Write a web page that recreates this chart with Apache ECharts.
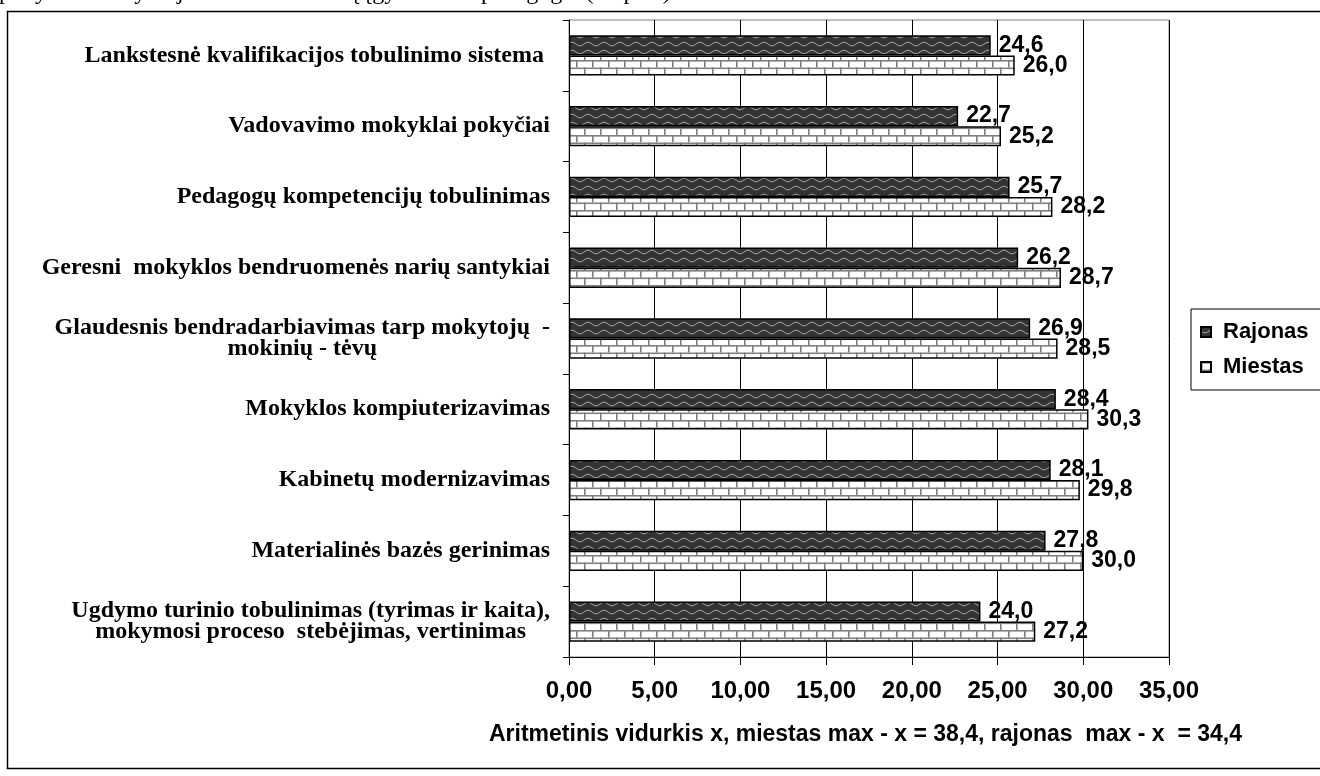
<!DOCTYPE html>
<html><head><meta charset="utf-8">
<script src="https://cdn.jsdelivr.net/npm/echarts@6/dist/echarts.min.js"></script>
<style>html,body{margin:0;padding:0;background:#fff}#c{width:1320px;height:776px}</style>
</head><body><div id="c"></div>
<script>
const categories = [
  'Lankstesnė kvalifikacijos tobulinimo sistema ',
  'Vadovavimo mokyklai pokyčiai',
  'Pedagogų kompetencijų tobulinimas',
  'Geresni  mokyklos bendruomenės narių santykiai',
  'Glaudesnis bendradarbiavimas tarp mokytojų  -\nmokinių - tėvų',
  'Mokyklos kompiuterizavimas',
  'Kabinetų modernizavimas',
  'Materialinės bazės gerinimas',
  'Ugdymo turinio tobulinimas (tyrimas ir kaita),\nmokymosi proceso  stebėjimas, vertinimas'
];
const rajonas = [24.6, 22.7, 25.7, 26.2, 26.9, 28.4, 28.1, 27.8, 24.0];
const miestas = [26.0, 25.2, 28.2, 28.7, 28.5, 30.3, 29.8, 30.0, 27.2];
const seriesNames = ['Rajonas', 'Miestas'];
const xMin = 0, xMax = 35, xInterval = 5;
const axisTitle = 'Aritmetinis vidurkis x, miestas max - x = 38,4, rajonas  max - x  = 34,4';
const topText = 'pokyčius mokykloje labiausiai norėtų įgyvendinti pedagogai (10 pav.)';

function wavePattern() {
  const c = document.createElement('canvas'); c.width = 16; c.height = 8;
  const g = c.getContext('2d');
  g.fillStyle = '#333333'; g.fillRect(0, 0, 16, 8);
  g.strokeStyle = '#8e8e8e'; g.lineWidth = 1.2; g.beginPath();
  for (let x = 0; x <= 16; x += 0.5) {
    const y = 4 + 1.7 * Math.sin(x / 16 * 2 * Math.PI);
    if (x === 0) g.moveTo(x, y); else g.lineTo(x, y);
  }
  g.stroke();
  return c;
}
function brickPattern() {
  const c = document.createElement('canvas'); c.width = 16; c.height = 15;
  const g = c.getContext('2d');
  g.fillStyle = '#ffffff'; g.fillRect(0, 0, 16, 15);
  g.fillStyle = '#808080';
  g.fillRect(0, 0, 16, 1.6); g.fillRect(0, 7.5, 16, 1.6);
  g.fillRect(0, 0, 1.6, 7.5); g.fillRect(8, 7.5, 1.6, 7.5);
  return c;
}
const fmt1 = v => v.toFixed(1).replace('.', ',');
const fmt2 = v => v.toFixed(2).replace('.', ',');

const chart = echarts.init(document.getElementById('c'), null, {renderer: 'canvas'});
const labelStyle = {
  show: true, position: 'right', distance: 8,
  fontFamily: 'Liberation Sans, Arial', fontWeight: 'bold', fontSize: 23, color: '#000',
  formatter: p => fmt1(p.value)
};
chart.setOption({
  backgroundColor: '#fff',
  animation: false,
  grid: {left: 569, top: 20, width: 600, height: 637, show: true, borderColor: '#808080', borderWidth: 1, containLabel: false},
  legend: {
    orient: 'vertical', left: 1191, top: 309,
    padding: [11, 200, 11, 9],
    borderColor: '#000', borderWidth: 1,
    itemWidth: 10, itemHeight: 10, itemGap: 11,
    selectedMode: false,
    textStyle: {fontFamily: 'Liberation Sans, Arial', fontWeight: 'bold', fontSize: 22, color: '#000', padding: [0, 0, 0, 7], lineHeight: 24},
    data: seriesNames.map(n => ({name: n, icon: 'rect'}))
  },
  xAxis: {
    type: 'value', min: xMin, max: xMax, interval: xInterval,
    axisLine: {show: true, lineStyle: {color: '#000', width: 1}},
    axisTick: {show: true, length: 8, lineStyle: {color: '#000'}},
    splitLine: {show: true, lineStyle: {color: '#000', width: 1}},
    axisLabel: {margin: 22, fontFamily: 'Liberation Sans, Arial', fontWeight: 'bold', fontSize: 24, color: '#000', formatter: v => fmt2(v)}
  },
  yAxis: {
    type: 'category', inverse: true, data: categories,
    axisLine: {show: true, lineStyle: {color: '#000', width: 1}},
    axisTick: {show: true, length: 6, lineStyle: {color: '#000'}},
    axisLabel: {
      margin: 19, align: 'right', color: '#000',
      formatter: v => v.split('\n').map(l => '{c|' + l + '}').join('\n'),
      rich: {c: {align: 'center', fontFamily: 'Liberation Serif, Times New Roman', fontWeight: 'bold', fontSize: 24, lineHeight: 21, color: '#000'}}
    }
  },
  series: [
    {name: seriesNames[0], type: 'bar', data: rajonas, barGap: '0%', barCategoryGap: '43%',
     itemStyle: {color: {image: wavePattern(), repeat: 'repeat'}, borderColor: '#000', borderWidth: 1.5},
     label: labelStyle},
    {name: seriesNames[1], type: 'bar', data: miestas, barGap: '0%', barCategoryGap: '43%',
     itemStyle: {color: {image: brickPattern(), repeat: 'repeat'}, borderColor: '#000', borderWidth: 1.5},
     label: labelStyle}
  ],
  graphic: [
    {type: 'rect', shape: {x: 7.5, y: 11.5, width: 1340, height: 757}, style: {fill: 'none', stroke: '#000', lineWidth: 1.5}, silent: true, z: -1},
    {type: 'text', x: -1, y: 5, style: {text: topText, font: '24px "Liberation Serif", "Times New Roman"', fill: '#000', align: 'left', verticalAlign: 'bottom'}, silent: true},
    {type: 'text', x: 1242, y: 735, style: {text: axisTitle, font: 'bold 23px "Liberation Sans", Arial', fill: '#000', align: 'right', verticalAlign: 'middle'}, silent: true}
  ]
});
</script>
</body></html>
